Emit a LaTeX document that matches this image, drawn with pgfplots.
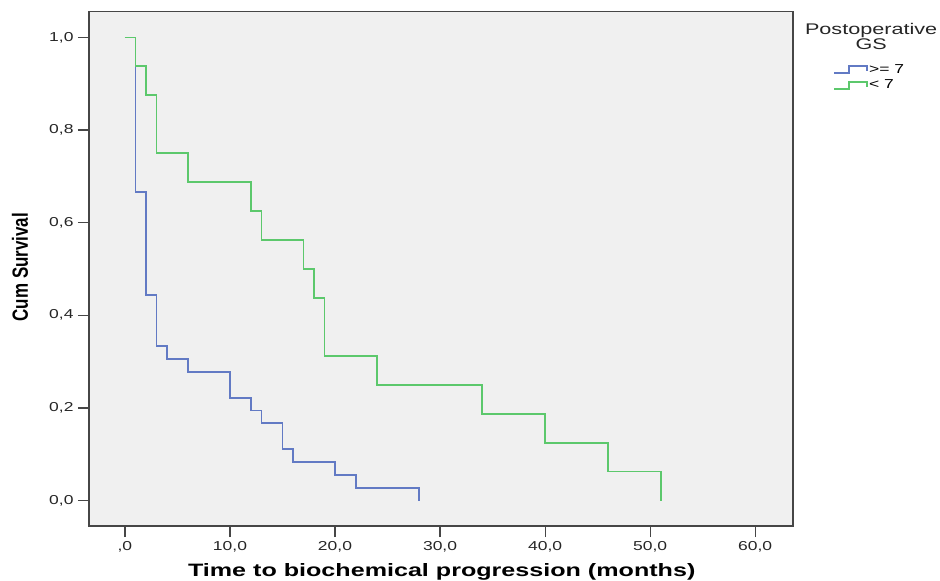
\documentclass[border=0pt]{standalone}
\usepackage{pgfplots}
\pgfplotsset{compat=1.18}
\usepackage{fontspec}
\setmainfont{Liberation Sans}
\newfontfamily\tickfont[FakeStretch=1.35]{Liberation Sans}
\newfontfamily\labfont[FakeStretch=1.4]{Liberation Sans}
\definecolor{kmblue}{RGB}{98,122,196}
\definecolor{kmgreen}{RGB}{92,200,108}
\definecolor{plotbg}{RGB}{240,240,240}
\definecolor{framec}{RGB}{70,70,70}
\begin{document}
\begin{tikzpicture}
\useasboundingbox (0,0) rectangle (940bp,581bp);
\begin{axis}[
  at={(89bp,55bp)}, anchor=south west,
  scale only axis, width=704bp, height=514.5bp,
  xmin=-3.42, xmax=63.6, ymin=-0.055, ymax=1.056,
  axis background/.style={fill=plotbg},
  axis line style={draw=framec, line width=1.5bp},
  every tick/.style={draw=framec, line width=1.2bp},
  tick align=outside, major tick length=11bp,
  xtick={0,10,20,30,40,50,60},
  xticklabels={{,0},{10,0},{20,0},{30,0},{40,0},{50,0},{60,0}},
  ytick={0,0.2,0.4,0.6,0.8,1},
  yticklabels={{0,0},{0,2},{0,4},{0,6},{0,8},{1,0}},
  xticklabel style={font=\tickfont\fontsize{13}{13}\selectfont, text=black!85, yshift=-1bp},
  yticklabel style={font=\tickfont\fontsize{13}{13}\selectfont, text=black!85, xshift=-1bp},
  xtick pos=bottom, ytick pos=left,
  xlabel={Time to biochemical progression (months)},
  xlabel style={font=\labfont\bfseries\fontsize{18}{18}\selectfont, at={(axis description cs:0.501,-0.089)}, anchor=center},
  ylabel={\scalebox{1}[1.3]{\bfseries\fontsize{17}{17}\selectfont Cum Survival}},
  ylabel style={at={(axis description cs:-0.098,0.503)}, anchor=center, rotate=0},
  clip=false,
  legend cell align=left,
  legend style={at={(axis description cs:1.057,0.9)}, anchor=north west, draw=none, fill=none,
    font=\tickfont\fontsize{13}{13}\selectfont, inner sep=0pt, row sep=3.5bp,
    nodes={inner sep=1bp}},
  legend image code/.code={\draw[#1] (0bp,-3.5bp) -- (15bp,-3.5bp) -- (15bp,3.5bp) -- (33bp,3.5bp) -- (33bp,-1.5bp);},
]
\addplot[const plot, draw=kmblue, line width=1.8bp] coordinates {
  (0,1) (1,0.6667) (2,0.4444) (3,0.3333) (4,0.3056) (6,0.2778) (10,0.2222)
  (12,0.1944) (13,0.1667) (15,0.1111) (16,0.0833) (20,0.0556) (22,0.0278) (28,0.0278) (28,0)
};
\addlegendentry{>= 7}
\addplot[const plot, draw=kmgreen, line width=1.8bp] coordinates {
  (0,1) (1,0.9375) (2,0.875) (3,0.75) (6,0.6875) (12,0.625) (13,0.5625)
  (17,0.5) (18,0.4375) (19,0.3125) (24,0.25) (34,0.1875) (40,0.125) (46,0.0625) (51,0.0625) (51,0)
};
\addlegendentry{< 7}
\node[font=\labfont\fontsize{15.5}{15}\selectfont, align=center, text=black!85] at (axis description cs:1.111,0.951) {Postoperative\\GS};
\end{axis}
\end{tikzpicture}
\end{document}
